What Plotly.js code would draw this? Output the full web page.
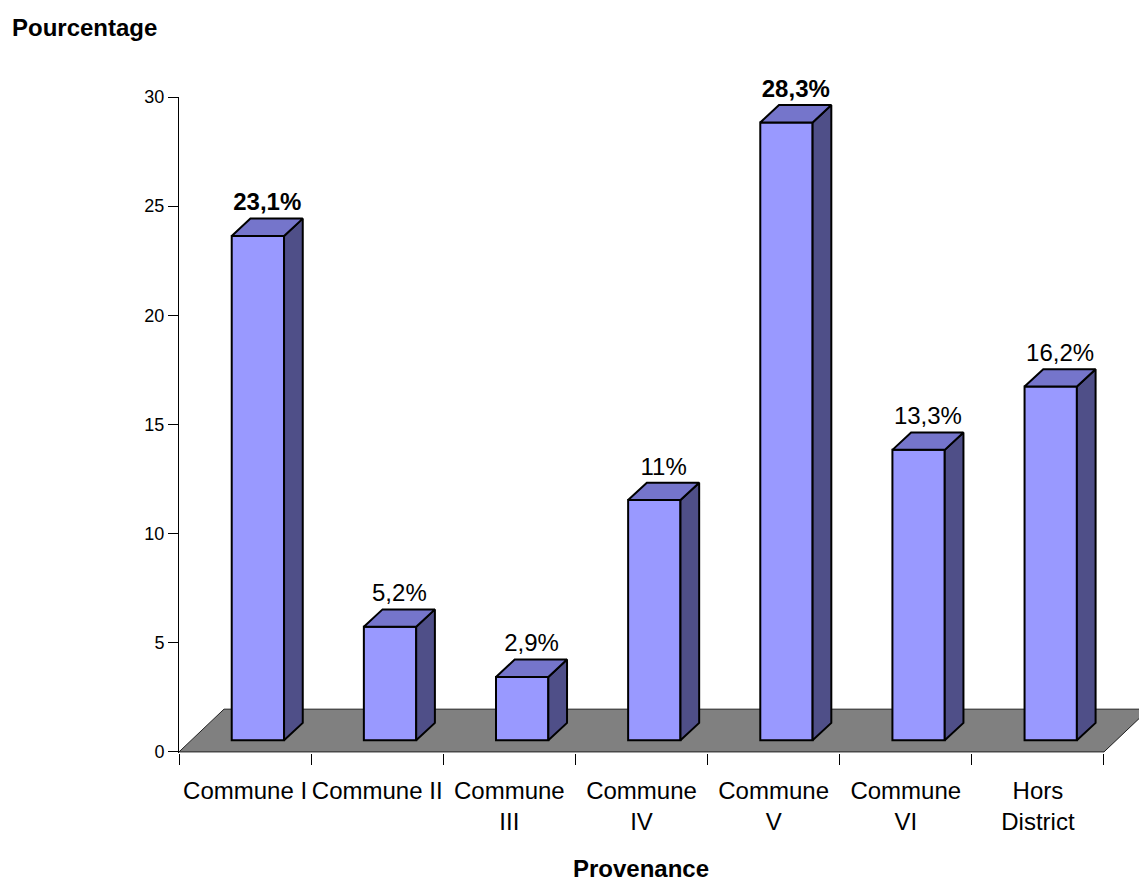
<!DOCTYPE html>
<html>
<head>
<meta charset="utf-8">
<script src="https://cdn.plot.ly/plotly-3.0.1.min.js"></script>
<style>html,body{margin:0;padding:0;background:#fff}</style>
</head>
<body>
<div id="chart" style="width:1139px;height:884px"></div>
<script>
// ---- data ----
var categories = ["Commune I", "Commune II", "Commune<br>III", "Commune<br>IV", "Commune<br>V", "Commune<br>VI", "Hors<br>District"];
var values = [23.1, 5.2, 2.9, 11, 28.3, 13.3, 16.2];
var boldLabels = [true, false, false, false, true, false, false];
var yTicks = [0, 5, 10, 15, 20, 25, 30];

// ---- 3D geometry (style constants) ----
var BAR_W = 0.396, BAR_OFF = -0.101, BASE = 0.536;
var DX = 0.1415, DY = 0.793;      // bar depth offset
var FDX = 0.3405, FDY = 1.958;    // floor depth offset
var FONT = "'Liberation Sans Narrow', 'Arial Narrow', 'Liberation Sans', Arial, sans-serif";

var xs = values.map(function (v, i) { return i; });
var boundaries = [];
for (var k = 0; k <= categories.length; k++) boundaries.push(k - 0.5);

var sideX = [], sideY = [], topX = [], topY = [];
values.forEach(function (v, i) {
  var xl = i + BAR_OFF, xr = xl + BAR_W, y0 = BASE, y1 = BASE + v;
  sideX.push(xr, xr + DX, xr + DX, xr, xr, null);
  sideY.push(y0, y0 + DY, y1 + DY, y1, y0, null);
  topX.push(xl, xr, xr + DX, xl + DX, xl, null);
  topY.push(y1, y1, y1 + DY, y1 + DY, y1, null);
});

var labelX = xs.map(function (i) { return i + BAR_OFF + BAR_W / 2 + DX / 2; });
var labelY = values.map(function (v) { return BASE + v + DY + 0.1; });
var labelText = values.map(function (v, i) {
  var s = String(v).replace('.', ',') + '%';
  return boldLabels[i] ? '<b>' + s + '</b>' : s;
});

var nCat = categories.length;
var floorPath = 'M ' + (-0.5) + ' 0 L ' + (nCat - 0.5) + ' 0 L ' + (nCat - 0.5 + FDX) + ' ' + FDY +
                ' L ' + (-0.5 + FDX) + ' ' + FDY + ' Z';

var traces = [
  {
    type: 'bar', x: xs, y: values, base: BASE, width: BAR_W, offset: BAR_OFF,
    marker: { color: '#9999FF', line: { color: '#000000', width: 2 } },
    hoverinfo: 'skip', showlegend: false
  },
  {
    type: 'scatter', mode: 'lines', x: sideX, y: sideY, fill: 'toself',
    fillcolor: '#4f4f88', line: { color: '#000000', width: 2 },
    hoverinfo: 'skip', showlegend: false
  },
  {
    type: 'scatter', mode: 'lines', x: topX, y: topY, fill: 'toself',
    fillcolor: '#7575cb', line: { color: '#000000', width: 2 },
    hoverinfo: 'skip', showlegend: false
  },
  {
    type: 'scatter', mode: 'text', x: labelX, y: labelY, text: labelText,
    textposition: 'top center', cliponaxis: false,
    textfont: { family: FONT, size: 24, color: '#000000' },
    hoverinfo: 'skip', showlegend: false
  }
];

var layout = {
  width: 1139, height: 884,
  margin: { l: 179, r: 0, t: 97, b: 131, pad: 0 },
  paper_bgcolor: '#ffffff', plot_bgcolor: 'rgba(0,0,0,0)',
  font: { family: FONT, color: '#000000' },
  showlegend: false,
  title: {
    text: '<b>Pourcentage</b>', x: 12 / 1139, xanchor: 'left', xref: 'container',
    y: 1 - 28 / 884, yanchor: 'middle', yref: 'container',
    font: { family: FONT, size: 24, color: '#000000' }
  },
  xaxis: {
    type: 'linear', range: [-0.5, -0.5 + 960 / 132.14],
    tickmode: 'array', tickvals: xs, ticktext: categories, tickangle: 0,
    ticks: '', showline: false, showgrid: false, zeroline: false,
    tickfont: { family: FONT, size: 24, color: '#000000' },
    ticklabelstandoff: 21,
    minor: { tickmode: 'array', tickvals: boundaries, ticks: 'outside', ticklen: 11, tickwidth: 1, tickcolor: '#000000', showgrid: false },
    fixedrange: true
  },
  yaxis: {
    range: [-0.05, 30], tickmode: 'array', tickvals: yTicks,
    ticks: 'outside', ticklen: 10, tickwidth: 1, tickcolor: '#000000',
    showline: true, linecolor: '#000000', linewidth: 1,
    showgrid: false, zeroline: false,
    tickfont: { family: FONT, size: 18, color: '#000000' },
    fixedrange: true
  },
  shapes: [
    {
      type: 'path', xref: 'x', yref: 'y', layer: 'below', path: floorPath,
      fillcolor: '#808080', line: { color: '#202020', width: 1 }
    }
  ],
  annotations: [
    {
      text: '<b>Provenance</b>', xref: 'paper', yref: 'paper',
      x: (641 - 179) / 960, y: (753 - 884) / 656, xanchor: 'center', yanchor: 'bottom',
      showarrow: false, font: { family: FONT, size: 24, color: '#000000' }
    }
  ]
};

Plotly.newPlot('chart', traces, layout, { staticPlot: true, displayModeBar: false });
</script>
</body>
</html>
